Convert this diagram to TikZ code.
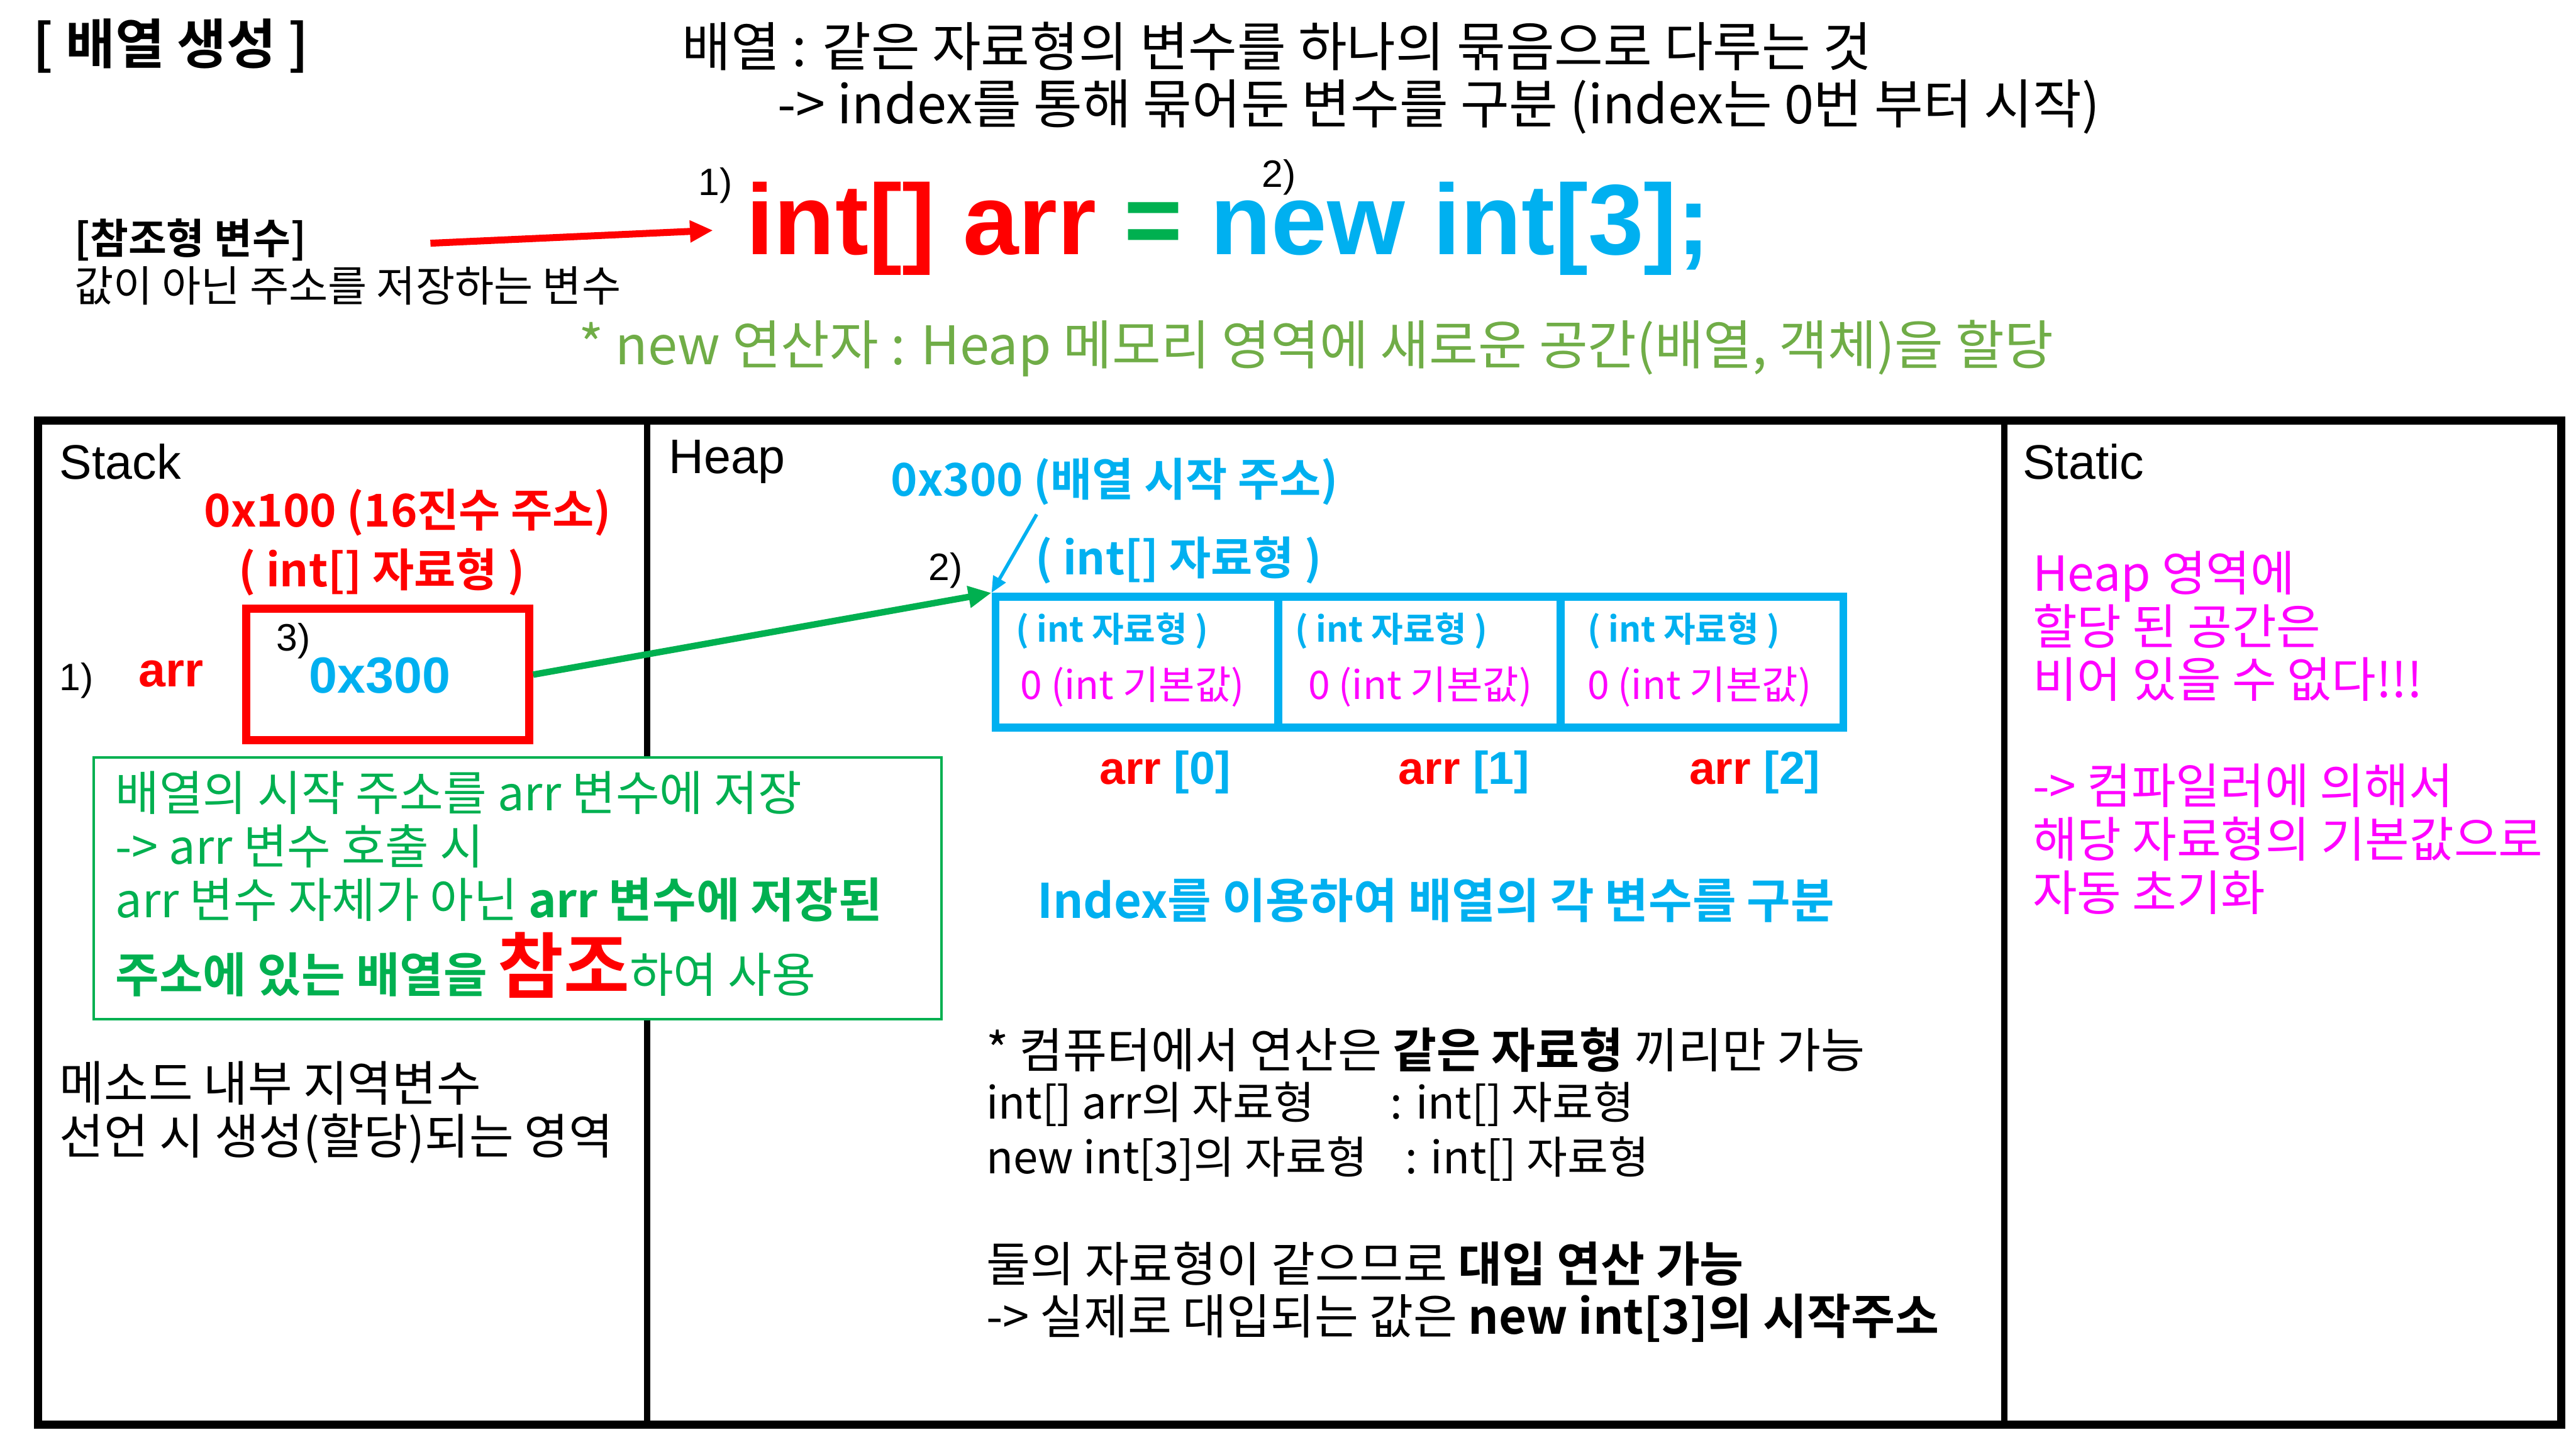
\documentclass[tikz,border=0pt]{standalone}
\usepackage{fontspec}
\setmainfont{Noto Sans CJK KR}[BoldFont={Noto Sans CJK KR Bold}]
\newfontfamily\lat{Liberation Sans}
\usetikzlibrary{arrows.meta}
\definecolor{ArrRed}{RGB}{255,0,0}
\definecolor{AddrCyan}{RGB}{0,176,240}
\definecolor{NoteGreen}{RGB}{0,176,80}
\definecolor{NewGreen}{RGB}{112,173,71}
\definecolor{InitMagenta}{RGB}{255,0,255}

\begin{document}
\begin{tikzpicture}[x=0.025cm, y=-0.025cm,
                every node/.style={inner sep=0pt, anchor=west},
                head/.style={font=\fontsize{23}{27}\selectfont},
                area/.style={font=\lat\fontsize{21}{25}\selectfont},
                tag/.style={font=\lat\fontsize{16.5}{20}\selectfont},
                body/.style={font=\fontsize{20.7}{23.5}\selectfont},
                typeline/.style={font=\fontsize{19.2}{23}\selectfont},
                addr/.style={font=\bfseries\fontsize{19.6}{24}\selectfont},
                note/.style={font=\fontsize{20.6}{23.1}\selectfont, text=NoteGreen},
                init/.style={font=\fontsize{20.9}{23.1}\selectfont, text=InitMagenta, align=left},
                cell/.style={draw=AddrCyan, line width=3.5pt, anchor=center, minimum width=4.3cm, minimum height=1.99cm},
                celltype/.style={font=\bfseries\fontsize{15}{18}\selectfont, text=AddrCyan},
                cellval/.style={font=\fontsize{17}{20}\selectfont, text=InitMagenta},
                elem/.style={font=\lat\bfseries\fontsize{20}{24}\selectfont, text=AddrCyan},
                arrow/.style={-{Triangle[length=10pt,width=9pt]}}]

    \useasboundingbox (0,0) rectangle (1568,870);

    % Title
    \node[font=\fontsize{23.3}{27}\selectfont] (title) at (20,28) {\textbf{[ 배열 생성 ]}};
    \node[head] (def) at (415,28) {배열 : 같은 자료형의 변수를 하나의 묶음으로 다루는 것};
    \node[head] (defidx) at (473,65) {-> index를 통해 묶어둔 변수를 구분 (index는 0번 부터 시작)};

    % Declaration
    \node[font=\fontsize{18}{22}\selectfont] (refname) at (45,146) {\textbf{[참조형 변수]}};
    \node[font=\fontsize{18.4}{22}\selectfont] (refdesc) at (45,174) {값이 아닌 주소를 저장하는 변수};
    \node[font=\lat\bfseries\fontsize{43.3}{50}\selectfont, anchor=base west] (code) at (454,155)
        {\textcolor{ArrRed}{int[] arr} \textcolor{NoteGreen}{=} \textcolor{AddrCyan}{new int[3];}};
    \node[tag] (codeone) at (425,113) {1)};
    \node[tag] (codetwo) at (768,108) {2)};
    \node[head, text=NewGreen] (newop) at (352,212) {* new 연산자 : Heap 메모리 영역에 새로운 공간(배열, 객체)을 할당};
    \coordinate (reftail) at (262,148);
    \draw[arrow, ArrRed, line width=3pt, shorten >=0.5cm] (reftail) -- (code.west);

    % Memory areas
    \draw[line width=3.5pt] (23,256) rectangle (1559,867);
    \draw[line width=2.6pt] (394,256) -- (394,867) (1220,256) -- (1220,867);
    \node[area] (stack) at (36,281) {Stack};
    \node[area] (heap) at (407,281) {Heap};
    \node[area] (static) at (1231,281) {Static};

    % Stack
    \node[addr, text=ArrRed] (stackaddr) at (124,312) {0x100 (16진수 주소)};
    \node[addr, text=ArrRed] (stacktype) at (145,348) {( int[] 자료형 )};
    \node[tag] (stackone) at (36,414) {1)};
    \node[font=\lat\bfseries\fontsize{21}{25}\selectfont, text=ArrRed] (arrname) at (84,410) {arr};
    \node[draw=ArrRed, line width=3.6pt, anchor=center, minimum width=4.3cm, minimum height=2cm] (ptr) at (236,410.5) {};
    \node[tag] (stackthree) at (168,390) {3)};
    \node[font=\lat\bfseries\fontsize{22}{26}\selectfont, text=AddrCyan] (ptrval) at (188,411) {0x300};
    \node[draw=NoteGreen, fill=white, line width=1pt, anchor=center, minimum width=12.9cm, minimum height=3.975cm] (notebox) at (315,540.5) {};
    \node[note, align=left] (notetext) at (70,515) {배열의 시작 주소를 arr 변수에 저장\\-> arr 변수 호출 시\\arr 변수 자체가 아닌 \textbf{arr 변수에 저장된}};
    \node[note, anchor=base west] (notelast) at (70,604) {\textbf{주소에 있는 배열을} {\color{ArrRed}\bfseries\fontsize{31}{34}\selectfont 참조}하여 사용};
    \node[font=\fontsize{20.9}{22.8}\selectfont, align=left] (stacklife) at (36,677) {메소드 내부 지역변수\\선언 시 생성(할당)되는 영역};

    % Heap
    \node[addr, text=AddrCyan] (heapaddr) at (542,293) {0x300 (배열 시작 주소)};
    \node[addr, text=AddrCyan] (heaptype) at (630,341) {( int[] 자료형 )};
    \node[tag] (heaptwo) at (565,347) {2)};
    \node[cell] (cell0) at (692,403) {};
    \node[cell] (cell1) at (864,403) {};
    \node[cell] (cell2) at (1036,403) {};
    \node[celltype] (type0) at (618,384) {( int 자료형 )};
    \node[celltype] (type1) at (788,384) {( int 자료형 )};
    \node[celltype] (type2) at (966,384) {( int 자료형 )};
    \node[cellval] (val0) at (621,418) {0 (int 기본값)};
    \node[cellval] (val1) at (796,418) {0 (int 기본값)};
    \node[cellval] (val2) at (966,418) {0 (int 기본값)};
    \node[elem] (elem0) at (669,470) {\textcolor{ArrRed}{arr} [0]};
    \node[elem] (elem1) at (851,470) {\textcolor{ArrRed}{arr} [1]};
    \node[elem] (elem2) at (1028,470) {\textcolor{ArrRed}{arr} [2]};
    \coordinate (addrtail) at (631,313);
    \draw[-{Triangle[length=7pt,width=6pt]}, AddrCyan, line width=1.5pt] (addrtail) -- (cell0.north west);
    \draw[arrow, NoteGreen, line width=2.8pt] (ptr.east) -- (cell0.north west);
    \node[font=\bfseries\fontsize{20.6}{24}\selectfont, text=AddrCyan] (indexnote) at (631,548) {Index를 이용하여 배열의 각 변수를 구분};
    \node[body] (cmp1) at (600,639) {* 컴퓨터에서 연산은 \textbf{같은 자료형} 끼리만 가능};
    \node[typeline] (cmp2) at (600,672) {int[] arr의 자료형};
    \node[typeline] (cmp2r) at (846,672) {: int[] 자료형};
    \node[typeline] (cmp3) at (600,705) {new int[3]의 자료형};
    \node[typeline] (cmp3r) at (855,705) {: int[] 자료형};
    \node[body] (assign1) at (600,769) {둘의 자료형이 같으므로 \textbf{대입 연산 가능}};
    \node[body] (assign2) at (600,802) {-> 실제로 대입되는 값은 \textbf{new int[3]의 시작주소}};

    % Static
    \node[init] (static1) at (1237,381) {Heap 영역에\\할당 된 공간은\\비어 있을 수 없다!!!};
    \node[init] (static2) at (1237,510.5) {-> 컴파일러에 의해서\\해당 자료형의 기본값으로\\자동 초기화};
\end{tikzpicture}
\end{document}
